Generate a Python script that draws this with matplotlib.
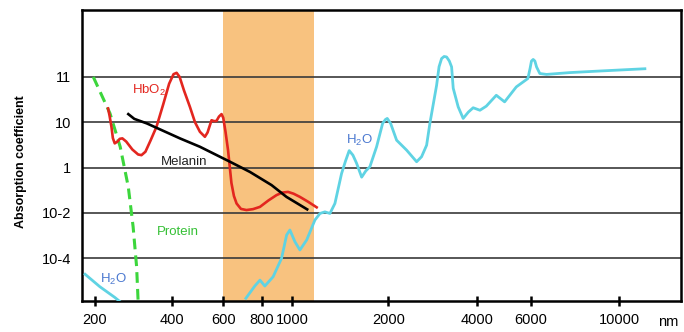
import numpy as np
import matplotlib
matplotlib.use("Agg")
import matplotlib.pyplot as plt

plt.rcParams['font.family'] = ['Liberation Sans', 'DejaVu Sans']
plt.rcParams['mathtext.fontset'] = 'custom'
plt.rcParams['mathtext.rm'] = 'Liberation Sans'

# wavelength (nm) / log absorption (grid units)
hbo2_nm = [225, 228, 232, 235, 239, 245, 250, 256, 265, 280, 295, 304, 315, 330, 348,
           370, 390, 405, 415, 425, 440, 461, 480, 499, 519, 530, 547, 558, 569, 580,
           592, 600, 610, 622, 638, 650, 663, 685, 714, 750, 790, 840, 892, 930, 970,
           1010, 1057, 1120, 1193]
hbo2_y = [2.61, 2.30, 1.80, 1.30, 1.07, 1.15, 1.27, 1.29, 1.15, 0.80, 0.58, 0.55, 0.70,
          1.20, 1.80, 2.80, 3.70, 4.12, 4.18, 4.00, 3.40, 2.68, 2.00, 1.58, 1.36, 1.55,
          2.09, 2.05, 2.06, 2.25, 2.36, 2.20, 1.60, 0.77, -0.68, -1.25, -1.58, -1.82,
          -1.87, -1.83, -1.73, -1.45, -1.21, -1.10, -1.07, -1.15, -1.29, -1.50, -1.75]

melanin_nm = [270, 285, 319, 426, 499, 631, 733, 860, 959, 1114]
melanin_y = [2.36, 2.15, 1.95, 1.29, 0.92, 0.26, -0.19, -0.77, -1.29, -1.84]

protein_nm = [197, 229, 251, 270, 282, 291, 295]
protein_y = [4.0, 2.39, 0.92, -0.85, -2.61, -4.37, -5.9]

water_uv_nm = [183, 209, 239, 250]
water_uv_y = [-4.70, -5.25, -5.72, -5.9]

water_nm = [711, 760, 790, 819, 870, 925, 960, 983, 1020, 1057, 1110, 1178, 1222,
            1266, 1313, 1361, 1428, 1470, 1509, 1550, 1592, 1651, 1700, 1752, 1839,
            1921, 1960, 1986, 2038, 2136, 2311, 2499, 2598, 2703, 2773, 2923, 2980,
            3040, 3100, 3161, 3230, 3288, 3330, 3462, 3600, 3750, 3894, 4101, 4300,
            4634, 4931, 5381, 5867, 5965, 6020, 6080, 6140, 6200, 6318, 6568, 7516,
            8939, 11603]
water_y = [-5.76, -5.22, -4.96, -5.22, -4.81, -4.0, -2.97, -2.75, -3.27, -3.63,
           -3.19, -2.31, -2.02, -1.95, -2.02, -1.58, -0.26, 0.30, 0.75, 0.55, 0.19,
           -0.42, -0.15, 0.04, 0.92, 1.95, 2.12, 2.17, 1.95, 1.21, 0.77, 0.26, 0.48,
           0.99, 1.95, 3.63, 4.45, 4.81, 4.90, 4.88, 4.70, 4.44, 3.50, 2.68, 2.17,
           2.45, 2.64, 2.53, 2.71, 3.19, 2.90, 3.56, 3.93, 4.38, 4.70, 4.77, 4.70,
           4.44, 4.15, 4.11, 4.19, 4.26, 4.36]

x_ticks = [200, 400, 600, 800, 1000, 2000, 4000, 6000, 10000]
y_ticks = [-4, -2, 0, 2, 4]
y_labels = ['10-4', '10-2', '1', '10', '11']

# irregular schematic wavelength axis
anchor_nm = [150, 200, 400, 600, 800, 1000, 2000, 4000, 6000, 10000, 15000]
anchor_pos = [63, 95, 172, 223.3, 261.7, 292.3, 388.3, 476.7, 531, 619.3, 689.4]
lg = np.log10(anchor_nm)


def fwd(x):
    x = np.clip(np.asarray(x, dtype=float), 1e-6, None)
    return np.interp(np.log10(x), lg, anchor_pos, left=-1e3, right=1e4)


def inv(p):
    return 10 ** np.interp(p, anchor_pos, lg)


fig = plt.figure(figsize=(6.84, 3.32), dpi=100)
ax = fig.add_axes([82 / 684, 31 / 332, 599 / 684, 291 / 332])
ax.set_xscale('function', functions=(fwd, inv))
ax.set_xlim(178, 14300)
ax.set_ylim(-5.88, 6.95)

ax.axvspan(600, 1170, color='#f8c27f', lw=0, zorder=0)
for y in y_ticks:
    ax.axhline(y, color='#3a3a3a', lw=1.2, zorder=1)

ax.plot(protein_nm, protein_y, color='#3cd63c', lw=2.2, ls=(0, (3.5, 2)), zorder=3)
ax.plot(water_uv_nm, water_uv_y, color='#5fd3e3', lw=2, zorder=3)
ax.plot(water_nm, water_y, color='#5fd3e3', lw=2, zorder=3, solid_joinstyle='round')
ax.plot(hbo2_nm, hbo2_y, color='#e3261f', lw=1.9, zorder=4, solid_joinstyle='round')
ax.plot(melanin_nm, melanin_y, color='black', lw=1.9, zorder=5)

ax.text(325, 3.41, r'HbO$_\mathregular{2}$', color='#e3261f', fontsize=9.5, ha='center', va='center')
ax.text(440, 0.24, 'Melanin', color='#222222', fontsize=9.5, ha='center', va='center')
ax.text(418, -2.84, 'Protein', color='#35c035', fontsize=9.5, ha='center', va='center')
ax.text(237, -4.91, r'H$_\mathregular{2}$O', color='#4a78d0', fontsize=9.5, ha='center', va='center')
ax.text(1625, 1.21, r'H$_\mathregular{2}$O', color='#4a78d0', fontsize=9.5, ha='center', va='center')

ax.set_xticks(x_ticks)
ax.set_xticklabels([str(t) for t in x_ticks], fontsize=10.5)
ax.xaxis.set_minor_locator(matplotlib.ticker.NullLocator())
ax.set_yticks(y_ticks)
ax.set_yticklabels(y_labels, fontsize=10.5)
ax.tick_params(axis='x', direction='inout', length=7, width=1.8, pad=5)
ax.tick_params(axis='y', length=0, pad=8)

for s in ax.spines.values():
    s.set_linewidth(1.8)

ax.set_ylabel('Absorption coefficient', fontsize=9, fontweight='bold')
ax.yaxis.set_label_coords(-0.092, 0.48)
fig.text(668 / 684, 1 - 322 / 332, 'nm', fontsize=10.5, ha='center', va='center')

fig.savefig('out.png', dpi=100)
